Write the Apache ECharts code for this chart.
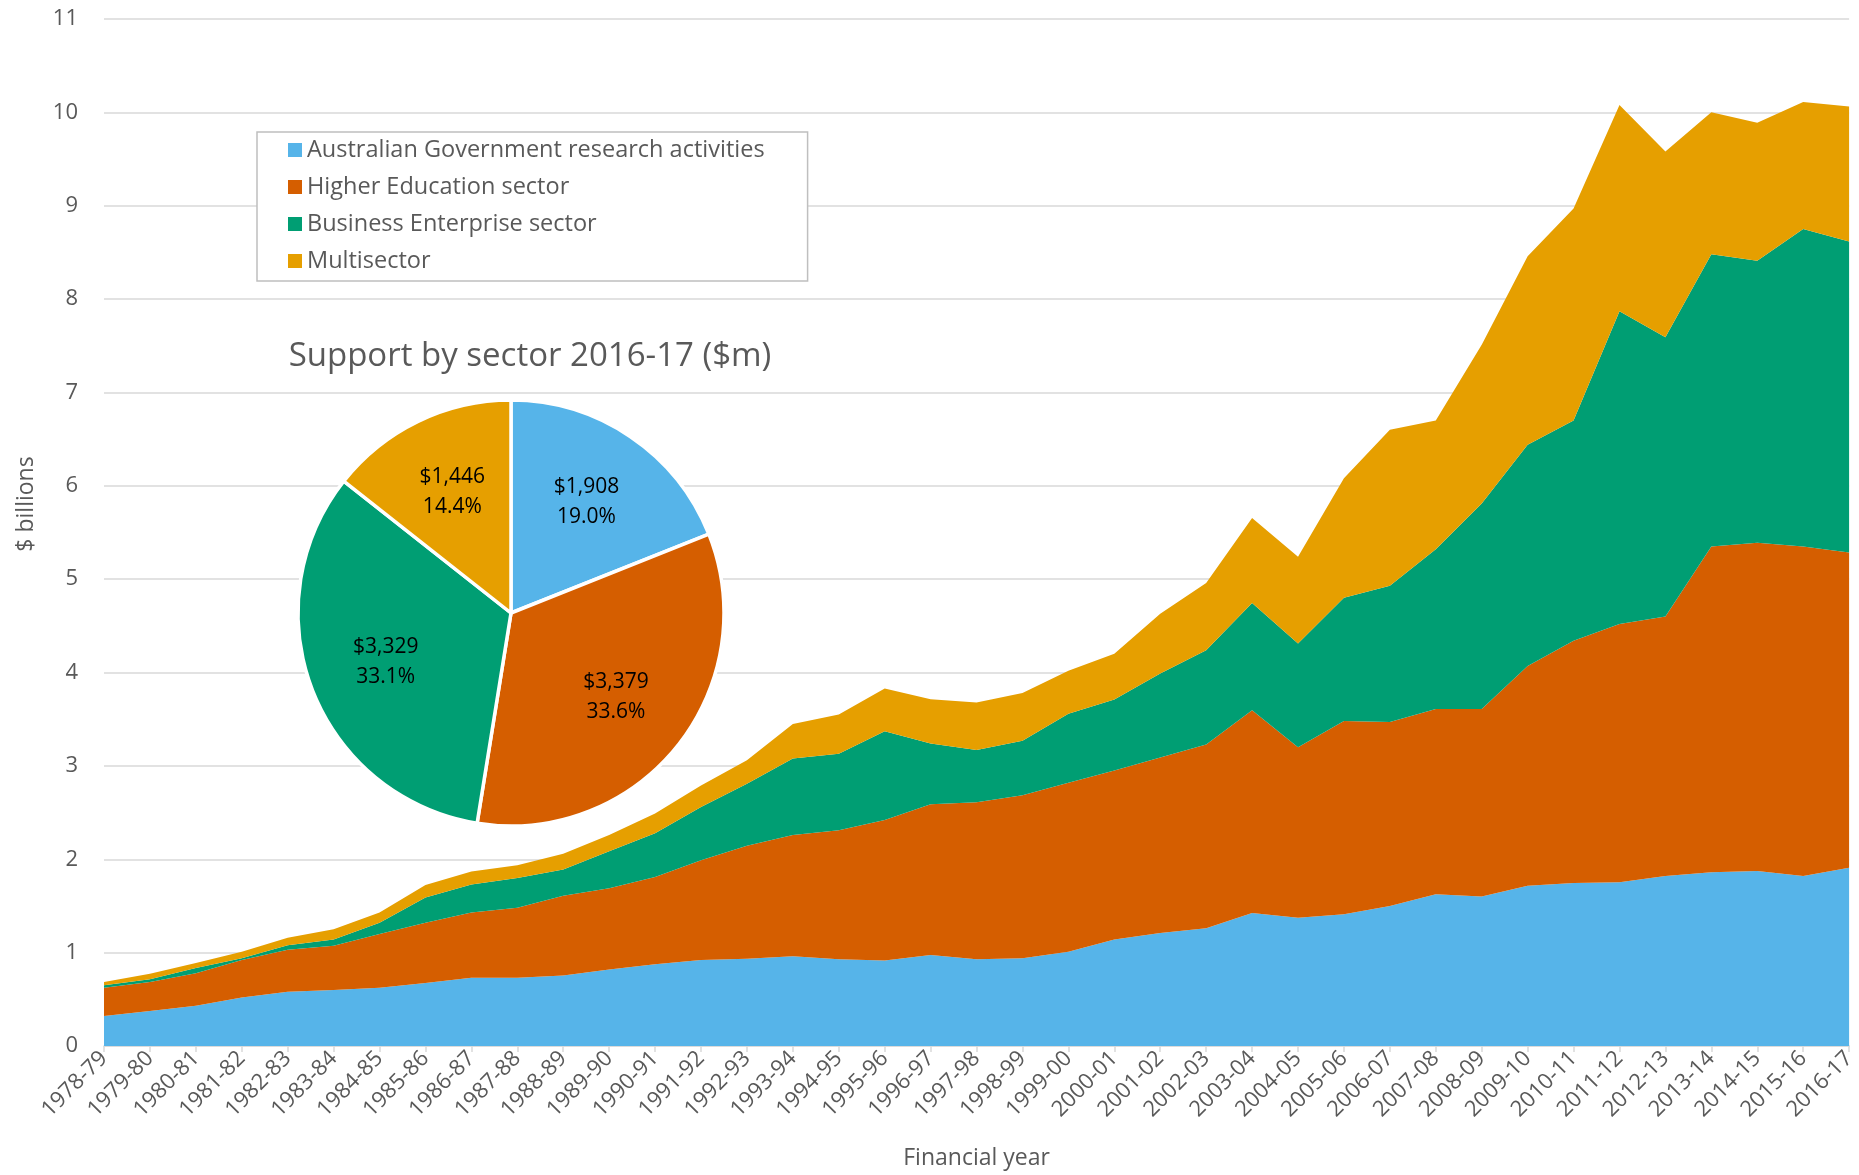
<!DOCTYPE html>
<html>
<head>
<meta charset="utf-8">
<script src="https://cdn.jsdelivr.net/npm/echarts@6/dist/echarts.min.js"></script>
<style>
  html, body { margin: 0; padding: 0; background: #fff; }
  #chart { width: 1859px; height: 1175px; }
</style>
</head>
<body>
<div id="chart"></div>
<script>
// financial years
var years = ['1978-79','1979-80','1980-81','1981-82','1982-83','1983-84','1984-85','1985-86','1986-87','1987-88',
  '1988-89','1989-90','1990-91','1991-92','1992-93','1993-94','1994-95','1995-96','1996-97','1997-98',
  '1998-99','1999-00','2000-01','2001-02','2002-03','2003-04','2004-05','2005-06','2006-07','2007-08',
  '2008-09','2009-10','2010-11','2011-12','2012-13','2013-14','2014-15','2015-16','2016-17'];

// $ billions per sector (stacked)
var govt = [0.32,0.375,0.43,0.52,0.58,0.60,0.625,0.675,0.73,0.73,0.755,0.82,0.875,0.92,0.935,0.96,0.93,0.915,0.975,0.93,
  0.94,1.01,1.14,1.21,1.26,1.425,1.375,1.41,1.50,1.625,1.60,1.716,1.746,1.754,1.82,1.86,1.875,1.82,1.908];
var higherEd = [0.305,0.311,0.35,0.40,0.45,0.475,0.575,0.645,0.70,0.75,0.855,0.87,0.935,1.07,1.211,1.30,1.38,1.505,1.615,1.68,
  1.745,1.81,1.81,1.88,1.97,2.17,1.825,2.07,1.97,1.985,2.01,2.354,2.594,2.766,2.78,3.49,3.515,3.53,3.379];
var business = [0.025,0.028,0.056,0.02,0.05,0.065,0.12,0.27,0.30,0.32,0.28,0.395,0.47,0.57,0.664,0.82,0.82,0.95,0.65,0.56,
  0.585,0.74,0.76,0.90,1.01,1.15,1.11,1.32,1.46,1.71,2.20,2.37,2.36,3.35,2.99,3.13,3.02,3.40,3.329];
var multi = [0.036,0.061,0.054,0.07,0.08,0.11,0.11,0.135,0.14,0.135,0.17,0.175,0.21,0.23,0.25,0.37,0.42,0.46,0.475,0.51,
  0.51,0.46,0.49,0.64,0.72,0.91,0.93,1.28,1.67,1.38,1.70,2.02,2.27,2.21,1.99,1.52,1.48,1.36,1.446];

// 2016-17 support by sector, $m
var pieNames = ['Australian Government research activities','Higher Education sector','Business Enterprise sector','Multisector'];
var pieValues = [1908, 3379, 3329, 1446];

var colors = ['#56B4E9', '#D55E00', '#009E73', '#E69F00'];
var font = '"Open Sans", "Noto Sans", sans-serif';
var grey = '#595959';

var chart = echarts.init(document.getElementById('chart'));

function areaSeries(name, data, color) {
  return {
    name: name,
    type: 'line',
    stack: 'total',
    data: data,
    showSymbol: false,
    symbol: 'none',
    lineStyle: { width: 0 },
    itemStyle: { color: color },
    areaStyle: { color: color, opacity: 1 }
  };
}

var pieTotal = pieValues.reduce(function (a, b) { return a + b; }, 0);

var pieData = pieNames.map(function (n, i) {
  return { name: n, value: pieValues[i], itemStyle: { color: colors[i] } };
});

var option = {
  animation: false,
  textStyle: { fontFamily: font },
  grid: { left: 104, right: 8, top: 19, bottom: 126, containLabel: false },
  legend: {
    orient: 'vertical',
    left: 257,
    top: 132,
    data: pieNames,
    icon: 'rect',
    itemWidth: 14,
    itemHeight: 14,
    itemGap: 13,
    padding: [6, 43, 8, 31],
    borderColor: '#bfbfbf',
    borderWidth: 1.5,
    backgroundColor: '#fff',
    selectedMode: false,
    textStyle: { fontSize: 23.5, color: grey, fontFamily: font }
  },
  xAxis: {
    type: 'category',
    data: years,
    boundaryGap: false,
    name: 'Financial year',
    nameLocation: 'middle',
    nameGap: 101,
    nameTextStyle: { fontSize: 23, color: grey },
    axisLine: { lineStyle: { color: '#d9d9d9', width: 1.5 } },
    axisTick: { show: true, length: 6, lineStyle: { color: '#d9d9d9', width: 1.5 } },
    axisLabel: { rotate: 45, fontSize: 22, color: grey, margin: 9, interval: 0 }
  },
  yAxis: {
    type: 'value',
    min: 0,
    max: 11,
    interval: 1,
    axisLine: { show: false },
    axisTick: { show: false },
    axisLabel: { fontSize: 22, color: grey, margin: 26 },
    splitLine: { lineStyle: { color: '#d9d9d9', width: 1.5 } }
  },
  graphic: [
    {
      type: 'text',
      x: 26, y: 504,
      rotation: Math.PI / 2,
      style: { text: '$ billions', fill: grey, font: '23px ' + font, align: 'center', verticalAlign: 'middle' }
    },
    {
      type: 'text',
      x: 530, y: 357,
      z: 10,
      style: { text: 'Support by sector 2016-17 ($m)', fill: grey, font: '33px ' + font, align: 'center', verticalAlign: 'middle' }
    }
  ],
  series: [
    areaSeries(pieNames[0], govt, colors[0]),
    areaSeries(pieNames[1], higherEd, colors[1]),
    areaSeries(pieNames[2], business, colors[2]),
    areaSeries(pieNames[3], multi, colors[3]),
    {
      name: 'Support by sector',
      type: 'pie',
      center: [511, 613],
      radius: [0, 213],
      startAngle: 90,
      clockwise: true,
      z: 5,
      silent: true,
      label: { show: false },
      labelLine: { show: false },
      itemStyle: { borderColor: '#fff', borderWidth: 3.5 },
      data: pieData
    },
    {
      // transparent ring only used to place the labels further out
      name: 'Support labels',
      type: 'pie',
      center: [511, 613],
      radius: [50, 213],
      startAngle: 90,
      clockwise: true,
      z: 6,
      silent: true,
      itemStyle: { color: 'rgba(0,0,0,0)', borderWidth: 0 },
      labelLine: { show: false },
      label: {
        show: true,
        position: 'inside',
        color: '#000',
        fontSize: 21,
        lineHeight: 30,
        fontFamily: font,
        formatter: function (p) {
          return '$' + p.value.toLocaleString('en-US') + '\n' + (p.value / pieTotal * 100).toFixed(1) + '%';
        }
      },
      data: pieNames.map(function (n, i) { return { name: n + ' ', value: pieValues[i] }; })
    }
  ]
};

chart.setOption(option);
</script>
</body>
</html>
